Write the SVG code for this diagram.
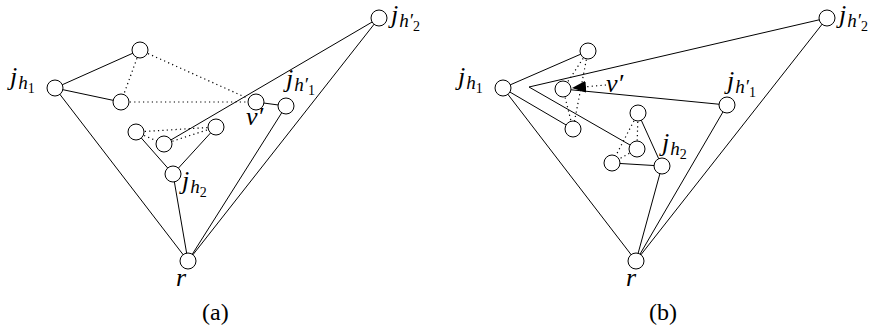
<svg xmlns="http://www.w3.org/2000/svg" width="875" height="332" viewBox="0 0 875 332">
<style>
.e{stroke:#000;stroke-width:1;fill:none}
.d{stroke:#000;stroke-width:1.2;fill:none;stroke-dasharray:1.2 3.2}
.n{fill:#fff;stroke:#000;stroke-width:1}
.t{font-family:"Liberation Serif",serif;font-size:26px;font-style:italic;fill:#000}
.s{font-size:19px}
.ss{font-size:14px;font-style:normal}
.c{font-family:"Liberation Serif",serif;font-size:24px;fill:#000}
</style>
<defs>
<marker id="ah" markerWidth="14" markerHeight="12" refX="14" refY="6" orient="auto" markerUnits="userSpaceOnUse">
<path d="M0,0 L14,6 L0,12 Z" fill="#000"/>
</marker>
</defs>
<g id="connectors">
<line class="e" x1="55" y1="88" x2="140" y2="50"/>
<line class="e" x1="55" y1="88" x2="121" y2="102"/>
<line class="e" x1="55" y1="88" x2="188" y2="261"/>
<line class="d" x1="140" y1="50" x2="121" y2="102"/>
<line class="d" x1="140" y1="50" x2="256" y2="102"/>
<line class="d" x1="121" y1="102" x2="256" y2="102"/>
<line class="e" x1="256" y1="102" x2="286" y2="106"/>
<line class="e" x1="379" y1="18" x2="164" y2="144"/>
<line class="e" x1="379" y1="18" x2="188" y2="261"/>
<line class="e" x1="286" y1="106" x2="188" y2="261"/>
<line class="e" x1="136" y1="132" x2="173" y2="174"/>
<line class="e" x1="216" y1="127" x2="173" y2="174"/>
<line class="e" x1="173" y1="174" x2="188" y2="261"/>
<line class="d" x1="136" y1="132" x2="216" y2="127"/>
<line class="d" x1="136" y1="132" x2="164" y2="144"/>
<line class="d" x1="164" y1="144" x2="216" y2="127"/>
<line class="e" x1="503" y1="88" x2="588" y2="51"/>
<line class="e" x1="503" y1="88" x2="573" y2="129"/>
<line class="e" x1="503" y1="88" x2="636" y2="261"/>
<polyline class="e" points="827,18 529,87 637,149"/>
<line class="d" x1="588" y1="51" x2="563" y2="89"/>
<line class="d" x1="588" y1="51" x2="573" y2="129"/>
<line class="d" x1="563" y1="89" x2="573" y2="129"/>
<line class="e" x1="727" y1="105" x2="563" y2="89"/>
<line class="d" x1="606" y1="85" x2="572" y2="88" marker-end="url(#ah)"/>
<line class="e" x1="638" y1="113" x2="662" y2="166"/>
<line class="e" x1="612" y1="163" x2="662" y2="166"/>
<line class="d" x1="638" y1="113" x2="612" y2="163"/>
<line class="d" x1="638" y1="113" x2="637" y2="149"/>
<line class="d" x1="637" y1="149" x2="612" y2="163"/>
<line class="e" x1="662" y1="166" x2="636" y2="261"/>
<line class="e" x1="727" y1="105" x2="636" y2="261"/>
<line class="e" x1="827" y1="18" x2="636" y2="261"/>
</g>
<g id="a-jh1"><circle class="n" cx="55" cy="88" r="8"/><text class="t" x="10" y="85">j<tspan class="s" dx="1" dy="4">h</tspan><tspan class="ss" dy="4">1</tspan></text></g>
<g id="a-top"><circle class="n" cx="140" cy="50" r="8"/></g>
<g id="a-mid"><circle class="n" cx="121" cy="102" r="8"/></g>
<g id="a-vp"><circle class="n" cx="256" cy="102" r="8"/><text class="t" x="246" y="125">v′</text></g>
<g id="a-jhp1"><circle class="n" cx="286" cy="106" r="8"/><text class="t" x="286" y="87">j<tspan class="s" dx="1" dy="4">h′</tspan><tspan class="ss" dy="4">1</tspan></text></g>
<g id="a-jhp2"><circle class="n" cx="379" cy="18" r="8"/><text class="t" x="391" y="23">j<tspan class="s" dx="1" dy="4">h′</tspan><tspan class="ss" dy="4">2</tspan></text></g>
<g id="a-n1"><circle class="n" cx="136" cy="132" r="8"/></g>
<g id="a-n2"><circle class="n" cx="164" cy="144" r="8"/></g>
<g id="a-n3"><circle class="n" cx="216" cy="127" r="8"/></g>
<g id="a-jh2"><circle class="n" cx="173" cy="174" r="8"/><text class="t" x="182" y="189">j<tspan class="s" dx="1" dy="4">h</tspan><tspan class="ss" dy="4">2</tspan></text></g>
<g id="a-r"><circle class="n" cx="188" cy="261" r="8"/><text class="t" x="176" y="286">r</text></g>
<text class="c" x="202" y="320">(a)</text>
<g id="b-jh1"><circle class="n" cx="503" cy="88" r="8"/><text class="t" x="458" y="85">j<tspan class="s" dx="1" dy="4">h</tspan><tspan class="ss" dy="4">1</tspan></text></g>
<g id="b-top"><circle class="n" cx="588" cy="51" r="8"/></g>
<g id="b-vp"><circle class="n" cx="563" cy="89" r="8"/><text class="t" x="606" y="92">v′</text></g>
<g id="b-bot"><circle class="n" cx="573" cy="129" r="8"/></g>
<g id="b-jhp1"><circle class="n" cx="727" cy="105" r="8"/><text class="t" x="727" y="89">j<tspan class="s" dx="1" dy="4">h′</tspan><tspan class="ss" dy="4">1</tspan></text></g>
<g id="b-jhp2"><circle class="n" cx="827" cy="18" r="8"/><text class="t" x="839" y="23">j<tspan class="s" dx="1" dy="4">h′</tspan><tspan class="ss" dy="4">2</tspan></text></g>
<g id="b-n1"><circle class="n" cx="638" cy="113" r="8"/></g>
<g id="b-n2"><circle class="n" cx="637" cy="149" r="8"/></g>
<g id="b-n3"><circle class="n" cx="612" cy="163" r="8"/></g>
<g id="b-jh2"><circle class="n" cx="662" cy="166" r="8"/><text class="t" x="662" y="151">j<tspan class="s" dx="1" dy="4">h</tspan><tspan class="ss" dy="4">2</tspan></text></g>
<g id="b-r"><circle class="n" cx="636" cy="261" r="8"/><text class="t" x="626" y="286">r</text></g>
<text class="c" x="649" y="320">(b)</text>
</svg>
